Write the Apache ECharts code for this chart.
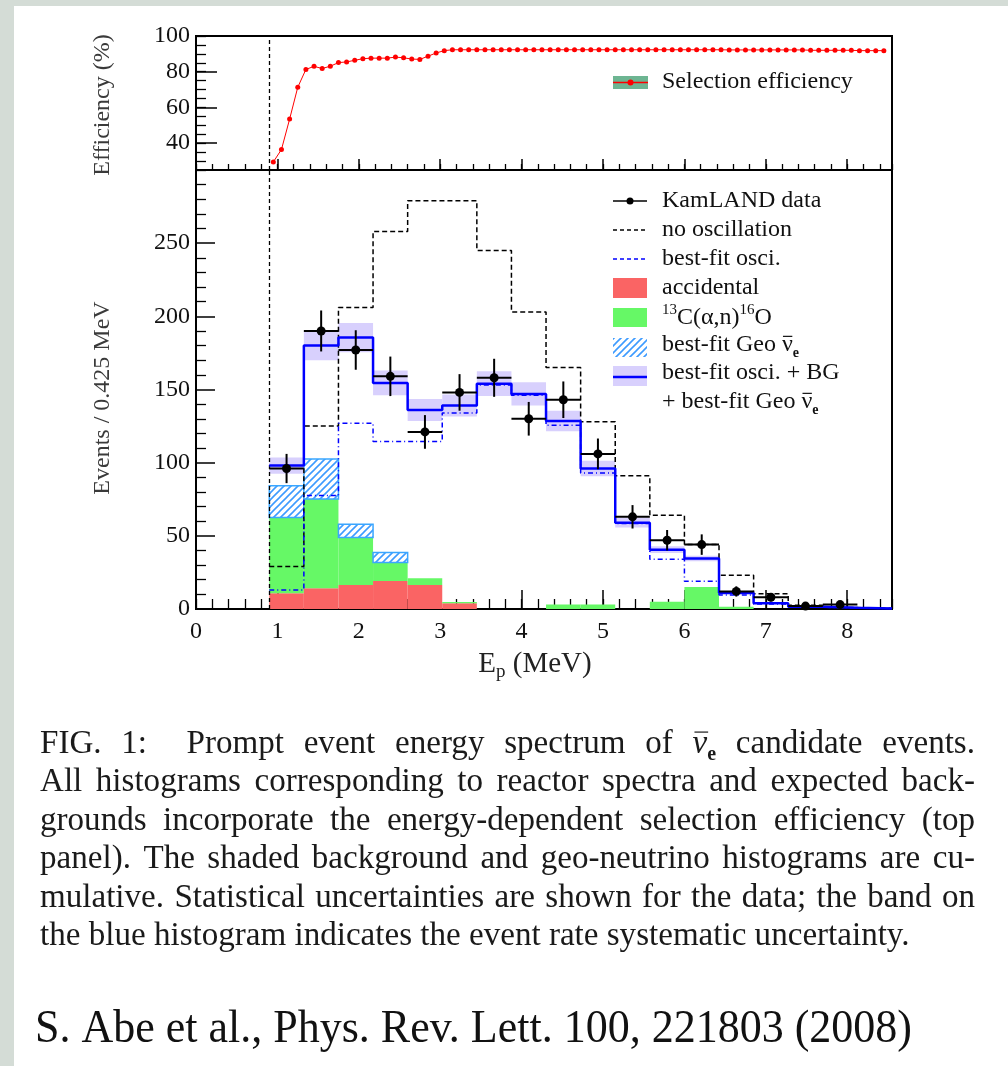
<!DOCTYPE html>
<html><head><meta charset="utf-8">
<script src="https://cdn.jsdelivr.net/npm/echarts@6/dist/echarts.min.js"></script>
<style>
html,body{margin:0;padding:0;background:#d4dcd6;overflow:hidden;}
#sheet{position:absolute;left:14px;top:6px;width:994px;height:1060px;background:#fff;}
#chart{position:absolute;left:0;top:0;width:1008px;height:1066px;}
</style></head><body>
<div id="sheet"></div><div id="chart"></div>
<script>
// ---------------- data ----------------
const threshold = 0.9;            // MeV, prompt-energy threshold (dashed line)
const binWidth = 0.425;           // MeV
const binLow = [0.9, 1.325, 1.75, 2.175, 2.6, 3.025, 3.45, 3.875, 4.3, 4.725, 5.15, 5.575, 6.0, 6.425, 6.85, 7.275, 7.7, 8.125];
const dataCounts = [96, 190, 177, 159, 121, 148, 158, 130, 143, 106, 63, 47, 44, 12, 8, 2, 3, null];
const dataErr    = [10, 14, 13.5, 13.5, 11.5, 12.5, 13, 11.5, 12.5, 10.5, 8, 7, 7, 3.5, 2.8, 1.4, 1.7, null];
const noOsc      = [29, 125, 206, 258, 279, 279, 245, 203, 165, 128, 91, 64, 44, 23, 10.5, 2.5, 1, 0.5];
const bestOsc    = [13, 77.5, 127, 114.5, 114.5, 134, 153, 146, 125.5, 93, 58.5, 34, 19, 9.5, 3.5, 1.2, 0.6, 0.3];
const bestTotal  = [98, 180, 185.5, 154.5, 136, 139, 154, 147, 128.5, 96, 59, 40.5, 34.5, 11, 4, 1.5, 0.8, 0.4];
const sysBand    = [5.5, 10, 10, 8.5, 7.5, 7.5, 8.5, 8, 7, 5.3, 3.3, 2.3, 1.9, 0.6, 0.3, 0.1, 0.05, 0.03];
const accidental = [10.7, 14.2, 16.4, 19.2, 16.4, 3.9, 0, 0, 0, 0, 0, 0, 0, 0, 0, 0, 0, 0];
const c13        = [51.9, 60.9, 32.5, 12.5, 4.6, 0.9, 0, 0, 3, 3, 0, 5, 15, 1.5, 0, 0, 0, 0];
const geo        = [21.6, 27.4, 9.1, 6.9, 0, 0, 0, 0, 0, 0, 0, 0, 0, 0, 0, 0, 0, 0];

const effE = [0.95,1.05,1.15,1.25,1.35,1.45,1.55,1.65,1.75,1.85,1.95,2.05,2.15,2.25,2.35,2.45,2.55,2.65,2.75,2.85,
  2.95,3.05,3.15,3.25,3.35,3.45,3.55,3.65,3.75,3.85,3.95,4.05,4.15,4.25,4.35,4.45,4.55,4.65,4.75,4.85,
  4.95,5.05,5.15,5.25,5.35,5.45,5.55,5.65,5.75,5.85,5.95,6.05,6.15,6.25,6.35,6.45,6.55,6.65,6.75,6.85,
  6.95,7.05,7.15,7.25,7.35,7.45,7.55,7.65,7.75,7.85,7.95,8.05,8.15,8.25,8.35,8.45];
const effPct = [29.5,36.5,53.5,71.3,81.3,83.0,81.8,83.1,85.1,85.5,86.4,87.3,87.6,87.6,87.6,88.2,87.8,87.1,86.9,88.7,
  90.5,91.8,92.3,92.3,92.3,92.3,92.3,92.3,92.3,92.3,92.3,92.3,92.3,92.3,92.3,92.3,92.3,92.3,92.3,92.3,
  92.3,92.3,92.3,92.3,92.3,92.3,92.3,92.3,92.3,92.3,92.3,92.3,92.3,92.3,92.3,92.3,92.2,92.2,92.2,92.2,
  92.2,92.2,92.2,92.2,92.2,92.2,92.0,92.0,92.0,92.0,92.0,92.0,91.8,91.8,91.8,91.8];

// ---------------- helpers ----------------
const SERIF = '"Liberation Serif", "Times New Roman", serif';
const mctx = document.createElement('canvas').getContext('2d');
function tw(t, font){ mctx.font = font; return mctx.measureText(t).width; }
function f(size, style){ return (style ? style + ' ' : '') + size + 'px ' + SERIF; }

function makeHatch(){
  const c = document.createElement('canvas'); c.width = 7; c.height = 7;
  const g = c.getContext('2d');
  g.fillStyle = '#fff'; g.fillRect(0,0,7,7);
  g.strokeStyle = '#3d9bff'; g.lineWidth = 1.6; g.lineCap = 'square';
  g.beginPath();
  g.moveTo(-1, 8); g.lineTo(8, -1);
  g.moveTo(-1, 1); g.lineTo(1, -1);
  g.moveTo(6, 8); g.lineTo(8, 6);
  g.stroke();
  return c;
}
const hatch = {image: makeHatch(), repeat: 'repeat'};

function stepData(vals){
  const d = binLow.map((x,i)=>[x, vals[i]]);
  d.push([binLow[binLow.length-1] + binWidth, vals[vals.length-1]]);
  return d;
}

// ---------------- graphic (texts, legend, caption) ----------------
const G = [];
function text(x, y, t, font, fill, align, extra){
  G.push(Object.assign({type:'text', x:x, y:y, silent:true, z:100,
    style:{text:t, font:font, fill:fill || '#111', align:align||'left', verticalAlign:'middle',
           textAlign:align||'left', textVerticalAlign:'middle'}}, extra||{}));
}
function line(x1,y1,x2,y2,stroke,w,dash){
  G.push({type:'line', silent:true, z:100, shape:{x1,y1,x2,y2}, style:{stroke, lineWidth:w, lineDash:dash||null}});
}
function rect(x,y,w,h,fill,stroke,lw){
  G.push({type:'rect', silent:true, z:100, shape:{x,y,width:w,height:h}, style:{fill, stroke:stroke||null, lineWidth:lw||0}});
}
// nu-bar with subscript e
function nuBar(x, y, size, italic, color){
  const fn = f(size, italic ? 'italic' : '');
  const wn = tw('ν', fn);
  text(x, y, 'ν', fn, color);
  line(x + (italic?2:1), y - size*0.36, x + wn + (italic?1:-0.5), y - size*0.36, color, 1.2);
  const fs = f(Math.round(size*0.6), 'bold');
  text(x + wn, y + size*0.33, 'e', fs, color);
  return wn + tw('e', fs);
}

// axis titles
G.push({type:'text', x:103, y:105, rotation:Math.PI/2, silent:true, z:100,
  style:{text:'Efficiency (%)', font:f(24), fill:'#3a3a3a', align:'center', verticalAlign:'middle', textAlign:'center', textVerticalAlign:'middle'}});
G.push({type:'text', x:103, y:398, rotation:Math.PI/2, silent:true, z:100,
  style:{text:'Events / 0.425 MeV', font:f(24), fill:'#3a3a3a', align:'center', verticalAlign:'middle', textAlign:'center', textVerticalAlign:'middle'}});
(function(){
  const fm = f(29), fsub = f(19);
  const wE = tw('E', fm), wp = tw('p', fsub), wr = tw(' (MeV)', fm);
  let x = 535 - (wE + wp + wr)/2;
  text(x, 664, 'E', fm, '#222'); x += wE;
  text(x, 672, 'p', fsub, '#222'); x += wp;
  text(x, 664, ' (MeV)', fm, '#222');
})();

// top legend
rect(613, 76, 35, 13, '#6db592');
line(613, 82.5, 648, 82.5, '#f00', 1.5);
G.push({type:'circle', silent:true, z:101, shape:{cx:630.5, cy:82.5, r:3}, style:{fill:'#f00'}});
text(662, 82, 'Selection efficiency', f(24), '#111');

// bottom legend
const LX0 = 613, LX1 = 647, TX = 662, LF = f(24);
line(LX0, 201, LX1, 201, '#000', 1.5);
G.push({type:'circle', silent:true, z:101, shape:{cx:630, cy:201, r:3.5}, style:{fill:'#000'}});
text(TX, 201, 'KamLAND data', LF);
line(LX0, 230, LX1, 230, '#000', 1.5, [4,3]);
text(TX, 230, 'no oscillation', LF);
line(LX0, 259, LX1, 259, '#0000ff', 1.5, [4,3]);
text(TX, 259, 'best-fit osci.', LF);
rect(LX0, 278, LX1-LX0, 20, '#fa6464');
text(TX, 288, 'accidental', LF);
rect(LX0, 308, LX1-LX0, 19, '#66f866');
(function(){
  const fsup = f(15); let x = TX;
  text(x, 310, '13', fsup); x += tw('13', fsup);
  text(x, 318, 'C(α,n)', LF); x += tw('C(α,n)', LF);
  text(x, 310, '16', fsup); x += tw('16', fsup);
  text(x, 318, 'O', LF);
})();
rect(LX0, 338, LX1-LX0, 19, hatch);
(function(){
  text(TX, 345, 'best-fit Geo ', LF);
  nuBar(TX + tw('best-fit Geo ', LF), 345, 24, false, '#111');
})();
rect(LX0, 366, LX1-LX0, 20, '#d8d0fd');
line(LX0, 377, LX1, 377, '#0000ff', 2.5);
text(TX, 373, 'best-fit osci. + BG', LF);
(function(){
  text(TX, 402, '+ best-fit Geo ', LF);
  nuBar(TX + tw('+ best-fit Geo ', LF), 402, 24, false, '#111');
})();

// caption
const capLines = [
  'FIG. 1:  Prompt event energy spectrum of #NU candidate events.',
  'All histograms corresponding to reactor spectra and expected back-',
  'grounds incorporate the energy-dependent selection efficiency (top',
  'panel). The shaded background and geo-neutrino histograms are cu-',
  'mulative. Statistical uncertainties are shown for the data; the band on',
  'the blue histogram indicates the event rate systematic uncertainty.'
];
const capY = [744, 782.5, 821, 859.5, 898, 936.5];
const capLeft = 40, capRight = 975;
(function(){
  let fs = 872 / tw(capLines[5], f(100)) * 100;
  const w5 = tw(capLines[4], f(fs));
  if (w5 > (capRight - capLeft) - 20) fs *= ((capRight - capLeft) - 20) / w5;
  fs = Math.round(fs*10)/10;
  const font = f(fs);
  const nuW = () => tw('ν', f(fs,'italic')) + tw('e', f(Math.round(fs*0.6),'bold'));
  capLines.forEach((ln, li) => {
    const words = ln.split(' ');
    const widths = words.map(w => w === '#NU' ? nuW() : tw(w, font));
    const sum = widths.reduce((a,b)=>a+b,0);
    const gaps = words.length - 1;
    const gap = (li < capLines.length - 1) ? (capRight - capLeft - sum) / gaps : tw(' ', font);
    let x = capLeft;
    words.forEach((w, i) => {
      if (w === '#NU') nuBar(x, capY[li], fs, true, '#1a1a1a');
      else if (w) text(x, capY[li], w, font, '#1a1a1a');
      x += widths[i] + gap;
    });
  });
  const ref = 'S. Abe et al., Phys. Rev. Lett. 100, 221803 (2008)';
  const rfs = 47;
  const sx = 877 / tw(ref, f(rfs));
  text(35, 1030, ref, f(rfs), '#111', 'left', {scaleX: sx});
})();

// ---------------- chart ----------------
const chart = echarts.init(document.getElementById('chart'), null, {renderer:'canvas', width:1008, height:1066});
const axLabel = {fontFamily:'Liberation Serif', fontSize:24, color:'#111'};
const blackLine = {show:true, lineStyle:{color:'#000', width:2}};
const thresholdLine = {silent:true, symbol:'none', label:{show:false}, animation:false,
  lineStyle:{color:'#000', type:[4,3], width:1.3}, data:[{xAxis: threshold}]};

const option = {
  animation:false,
  grid:[
    {left:196, top:36, width:696, height:134, show:true, borderColor:'#000', borderWidth:2, backgroundColor:'transparent'},
    {left:196, top:170, width:696, height:439, show:true, borderColor:'#000', borderWidth:2, backgroundColor:'transparent'}
  ],
  xAxis:[
    {type:'value', gridIndex:0, position:'bottom', min:0, max:8.55, interval:1, axisLine:blackLine,
     axisTick:{inside:true, length:11, lineStyle:{color:'#000', width:1.5}}, axisLabel:{show:false}, splitLine:{show:false}},
    {type:'value', gridIndex:0, position:'bottom', min:0, max:8.55, interval:0.2, axisLine:{show:false},
     axisTick:{inside:true, length:6, lineStyle:{color:'#000', width:1.3}}, axisLabel:{show:false}, splitLine:{show:false}},
    {type:'value', gridIndex:1, position:'bottom', min:0, max:8.55, interval:1, axisLine:blackLine,
     axisTick:{inside:true, length:19, lineStyle:{color:'#000', width:1.5}},
     axisLabel:Object.assign({margin:11, showMaxLabel:false}, axLabel), splitLine:{show:false}},
    {type:'value', gridIndex:1, position:'bottom', min:0, max:8.55, interval:0.2, axisLine:{show:false},
     axisTick:{inside:true, length:10, lineStyle:{color:'#000', width:1.3}}, axisLabel:{show:false}, splitLine:{show:false}}
  ],
  yAxis:[
    {type:'value', gridIndex:0, position:'left', min:25, max:100, splitNumber:4, minInterval:20, maxInterval:20, axisLine:blackLine,
     axisTick:{inside:true, length:21, lineStyle:{color:'#000', width:1.5}},
     axisLabel:Object.assign({margin:6, showMinLabel:false}, axLabel), splitLine:{show:false}},
    {type:'value', gridIndex:0, position:'left', min:25, max:100, interval:5, axisLine:{show:false},
     axisTick:{inside:true, length:10, lineStyle:{color:'#000', width:1.3}}, axisLabel:{show:false}, splitLine:{show:false}},
    {type:'value', gridIndex:1, position:'left', min:0, max:300, interval:50, axisLine:blackLine,
     axisTick:{inside:true, length:19, lineStyle:{color:'#000', width:1.5}},
     minorTick:{show:true, splitNumber:5, length:10, lineStyle:{color:'#000', width:1.3}},
     axisLabel:Object.assign({margin:6, showMaxLabel:false}, axLabel), splitLine:{show:false}}
  ],
  graphic:{elements:G},
  series:[
    {name:'Selection efficiency', type:'line', xAxisIndex:0, yAxisIndex:0,
     data: effE.map((x,i)=>[x, effPct[i]]), symbol:'circle', symbolSize:5,
     itemStyle:{color:'#ff0000'}, lineStyle:{color:'#ff0000', width:1}, z:5, markLine:thresholdLine},
    {name:'backgrounds', type:'custom', xAxisIndex:2, yAxisIndex:2, z:2,
     data: binLow.map((x,i)=>[x, accidental[i], c13[i], geo[i]]),
     encode:{x:0, y:1},
     renderItem:function(params, api){
       const x0 = api.value(0), x1 = x0 + binWidth;
       const a = api.value(1), c = api.value(2), g = api.value(3);
       const ch = [];
       function r(lo, hi, style){
         if (!(hi - lo > 0)) return;
         const p0 = api.coord([x0, hi]), p1 = api.coord([x1, lo]);
         ch.push({type:'rect', shape:{x:p0[0], y:p0[1], width:p1[0]-p0[0], height:p1[1]-p0[1]}, style:style});
       }
       r(0, a, {fill:'#fa6464'});
       r(a, a+c, {fill:'#66f866'});
       r(a+c, a+c+g, {fill:hatch, stroke:'#3aa6ff', lineWidth:1.5});
       return {type:'group', children:ch};
     }},
    {name:'sys band', type:'custom', xAxisIndex:2, yAxisIndex:2, z:3,
     data: binLow.map((x,i)=>[x, bestTotal[i], sysBand[i]]),
     encode:{x:0, y:1},
     renderItem:function(params, api){
       const x0 = api.value(0), v = api.value(1), h = api.value(2);
       const p0 = api.coord([x0, v + h]), p1 = api.coord([x0 + binWidth, v - h]);
       return {type:'rect', shape:{x:p0[0], y:p0[1], width:p1[0]-p0[0], height:p1[1]-p0[1]}, style:{fill:'#d8d0fd'}};
     }},
    {name:'no oscillation', type:'line', xAxisIndex:2, yAxisIndex:2, z:4, step:'end', symbol:'none',
     data: stepData(noOsc), lineStyle:{color:'#000', width:1.5, type:[5,3]}},
    {name:'best-fit osci.', type:'line', xAxisIndex:2, yAxisIndex:2, z:5, step:'end', symbol:'none',
     data: stepData(bestOsc), lineStyle:{color:'#0000ff', width:1.5, type:[5,3,1,3]}},
    {name:'best-fit total', type:'line', xAxisIndex:2, yAxisIndex:2, z:6, step:'end', symbol:'none',
     data: stepData(bestTotal), lineStyle:{color:'#0000ff', width:2.5}},
    {name:'KamLAND data', type:'custom', xAxisIndex:2, yAxisIndex:2, z:8,
     data: binLow.map((x,i)=>[x, dataCounts[i], dataErr[i]]).filter(d => d[1] != null),
     encode:{x:0, y:1},
     renderItem:function(params, api){
       const x0 = api.value(0), v = api.value(1), e = api.value(2);
       const xc = x0 + binWidth/2;
       const pL = api.coord([x0, v]), pR = api.coord([x0 + binWidth, v]);
       const pT = api.coord([xc, v + e]), pB = api.coord([xc, Math.max(v - e, 0)]);
       return {type:'group', children:[
         {type:'line', shape:{x1:pL[0], y1:pL[1], x2:pR[0], y2:pR[1]}, style:{stroke:'#000', lineWidth:2}},
         {type:'line', shape:{x1:pT[0], y1:pT[1], x2:pB[0], y2:pB[1]}, style:{stroke:'#000', lineWidth:2}},
         {type:'circle', shape:{cx:pT[0], cy:pL[1], r:4.5}, style:{fill:'#000'}}
       ]};
     },
     markLine:thresholdLine}
  ]
};
chart.setOption(option);
</script>
</body></html>
